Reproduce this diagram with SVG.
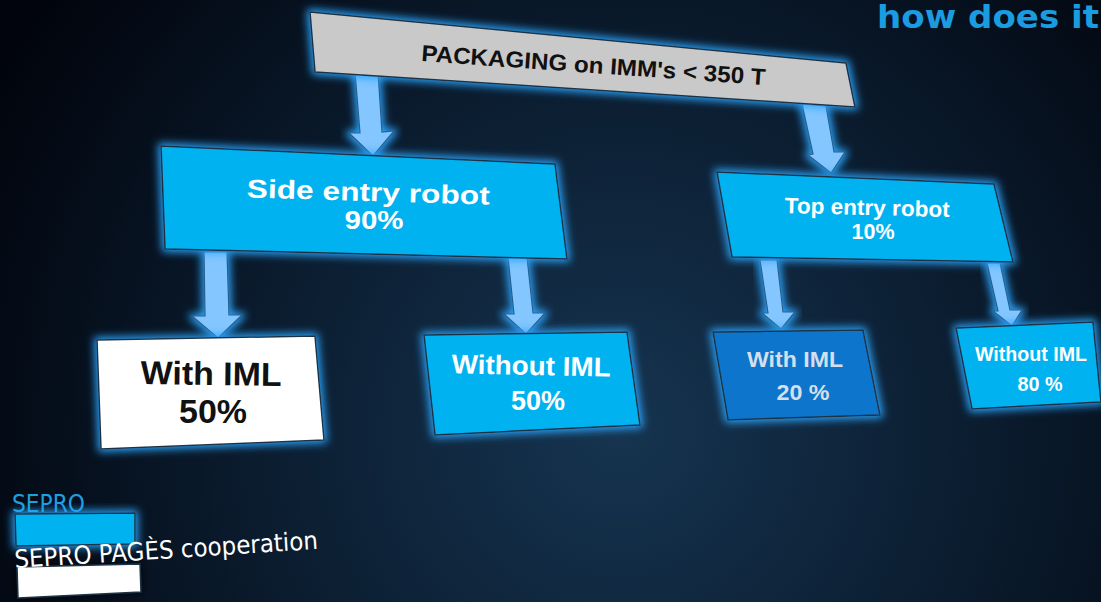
<svg xmlns="http://www.w3.org/2000/svg" width="1101" height="602" viewBox="0 0 1101 602">
<defs>
<radialGradient id="bg" cx="620" cy="430" r="720" gradientUnits="userSpaceOnUse">
<stop offset="0" stop-color="#163450"/>
<stop offset="0.45" stop-color="#0c1f33"/>
<stop offset="1" stop-color="#01040c"/>
</radialGradient>
<filter id="glow" x="-20%" y="-30%" width="140%" height="160%">
<feMorphology operator="dilate" radius="2" in="SourceAlpha" result="d"/>
<feGaussianBlur in="d" stdDeviation="4" result="b"/>
<feFlood flood-color="#2aa6ff" flood-opacity="1"/>
<feComposite in2="b" operator="in" result="g"/>
<feMerge><feMergeNode in="g"/><feMergeNode in="SourceGraphic"/></feMerge>
</filter>
<filter id="shadow" x="-20%" y="-30%" width="140%" height="160%">
<feGaussianBlur in="SourceAlpha" stdDeviation="4" result="b"/>
<feFlood flood-color="#000000" flood-opacity="0.9"/>
<feComposite in2="b" operator="in" result="g"/>
<feMerge><feMergeNode in="g"/><feMergeNode in="SourceGraphic"/></feMerge>
</filter>
</defs>
<style>
.box{stroke:#1c3346;stroke-width:1.5;filter:url(#glow)}
.cyan{fill:#00b2f0}
.dark{fill:#0a74cc}
.white{fill:#ffffff}
.gray{fill:#c9c9c9}
.arrow{fill:#84c6ff;stroke:#2a5f8c;stroke-width:1.2;filter:url(#glow)}
.t{font-family:"Liberation Sans",Arial,sans-serif;font-weight:bold;text-anchor:middle}
.lg{font-family:"DejaVu Sans",Tahoma,sans-serif}
</style>
<rect x="0" y="0" width="1101" height="602" fill="url(#bg)"/>

<text x="877" y="28" font-family="'DejaVu Sans',sans-serif" font-weight="bold" font-size="32" fill="#1b9be0" textLength="222" lengthAdjust="spacingAndGlyphs">how does it</text>

<g id="connectors">
<polygon class="arrow" points="355,72 378,72 382,132 394,131 373,156 349,133 360,133"/>
<polygon class="arrow" points="802,104 826,106 834,152 845,152 831,173 808,155 813,154"/>
<polygon class="arrow" points="204,252 227,252 229,315 242,315 218,338 192,316 205,316"/>
<polygon class="arrow" points="508,257 527,257 533,313 545,313 526,334 504,314 514,314"/>
<polygon class="arrow" points="760,260 777,260 783,312 795,312 781,329 762,313 768,313"/>
<polygon class="arrow" points="987,263 1000,263 1010,310 1022,310 1012,326 993,311 998,311"/>
</g>

<g id="packaging">
<polygon class="box gray" points="310,12 846,63 855,107 315,72"/>
<text class="t" font-size="23" fill="#111" transform="translate(593,73) rotate(4)" textLength="345" lengthAdjust="spacingAndGlyphs">PACKAGING on IMM's &lt; 350 T</text>
</g>

<g id="side-entry">
<polygon class="box cyan" points="161,146 555,164 567,259 165,249"/>
<text class="t" font-size="26" fill="#ffffff" transform="translate(368,201) rotate(1.7)" textLength="243" lengthAdjust="spacingAndGlyphs">Side entry robot</text>
<text class="t" font-size="26" fill="#ffffff" x="374" y="229" textLength="59" lengthAdjust="spacingAndGlyphs">90%</text>
</g>

<g id="top-entry">
<polygon class="box cyan" points="717,172 994,184 1013,262 732,257"/>
<text class="t" font-size="22" fill="#ffffff" transform="translate(867,215) rotate(1.4)" textLength="165" lengthAdjust="spacingAndGlyphs">Top entry robot</text>
<text class="t" font-size="22" fill="#ffffff" x="873" y="239" textLength="43" lengthAdjust="spacingAndGlyphs">10%</text>
</g>

<g id="with-iml-50">
<polygon class="box white" points="97,340 315,336 324,440 101,449"/>
<text class="t" font-size="33" fill="#111" transform="translate(211,385) rotate(0.8)" textLength="141" lengthAdjust="spacingAndGlyphs">With IML</text>
<text class="t" font-size="33" fill="#111" x="213" y="423" textLength="68" lengthAdjust="spacingAndGlyphs">50%</text>
</g>

<g id="without-iml-50">
<polygon class="box cyan" points="424,335 627,332 640,425 435,435"/>
<text class="t" font-size="27" fill="#ffffff" transform="translate(531,375) rotate(1.2)" textLength="159" lengthAdjust="spacingAndGlyphs">Without IML</text>
<text class="t" font-size="27" fill="#ffffff" x="538" y="410" textLength="54" lengthAdjust="spacingAndGlyphs">50%</text>
</g>

<g id="with-iml-20">
<polygon class="box dark" points="713,332 863,330 880,415 728,420"/>
<text class="t" font-size="22" fill="#d4dfeb" x="795" y="367" textLength="96" lengthAdjust="spacingAndGlyphs">With IML</text>
<text class="t" font-size="22" fill="#d4dfeb" x="803" y="400" textLength="53" lengthAdjust="spacingAndGlyphs">20 %</text>
</g>

<g id="without-iml-80">
<polygon class="box cyan" points="956,328 1093,322 1101,402 972,409"/>
<text class="t" font-size="20" fill="#ffffff" x="1031" y="361" textLength="112" lengthAdjust="spacingAndGlyphs">Without IML</text>
<text class="t" font-size="20" fill="#ffffff" x="1040" y="391" textLength="45" lengthAdjust="spacingAndGlyphs">80 %</text>
</g>

<g id="legend">
<text class="lg" x="12" y="512" font-size="25" fill="#1e9fe0" textLength="73" lengthAdjust="spacingAndGlyphs">SEPRO</text>
<polygon class="box cyan" points="15,514 135,513 135,544 16,546"/>
<polygon class="white" stroke="#1c3346" stroke-width="1.5" filter="url(#shadow)" points="17,567 140,564 141,592 18,598"/>
<text class="lg" font-size="25" fill="#ffffff" transform="translate(15,568) rotate(-3.6)" textLength="304" lengthAdjust="spacingAndGlyphs">SEPRO PAGÈS cooperation</text>
</g>
</svg>
